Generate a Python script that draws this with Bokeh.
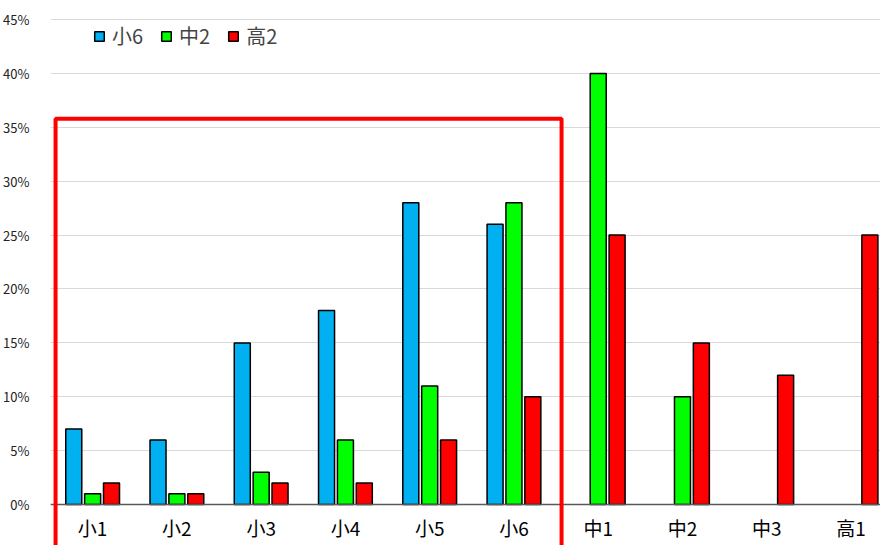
from bokeh.plotting import figure
from bokeh.models import (ColumnDataSource, Range1d, FixedTicker, Legend, LegendItem,
                          PolyAnnotation)
from bokeh.embed import file_html
from bokeh.resources import INLINE

categories = ["小1", "小2", "小3", "小4", "小5", "小6", "中1", "中2", "中3", "高1"]
series_names = ["小6", "中2", "高2"]
s_sho6 = [7, 6, 15, 18, 28, 26, 0, 0, 0, 0]
s_chu2 = [1, 1, 3, 6, 11, 28, 40, 10, 0, 0]
s_kou2 = [2, 1, 2, 2, 6, 10, 25, 15, 12, 25]
y_ticks = [0, 5, 10, 15, 20, 25, 30, 35, 40, 45]

colors = ["#00B0F0", "#00FF00", "#FF0000"]
offsets = [-0.224, 0.0, 0.224]

FONT = "Noto Sans CJK JP"

p = figure(width=880, height=545, output_backend="svg", toolbar_location=None,
           x_range=Range1d(-0.5, 9.35), y_range=Range1d(-3.80, 45.19),
           min_border_left=50, min_border_right=0, min_border_top=17, min_border_bottom=0)
p.outline_line_color = None
p.background_fill_color = "white"
p.border_fill_color = "white"

items = []
for name, vals, col, off in zip(series_names, [s_sho6, s_chu2, s_kou2], colors, offsets):
    xs = [i + off for i, v in enumerate(vals) if v > 0]
    tops = [v for v in vals if v > 0]
    src = ColumnDataSource(dict(x=xs, top=tops))
    r = p.vbar(x="x", top="top", width=0.19, bottom=0, source=src,
               fill_color=col, line_color="black", line_width=1.5)
    items.append(LegendItem(label=name, renderers=[r]))

# x axis drawn at y = 0 inside the frame
p.xaxis.fixed_location = 0
p.xaxis.ticker = FixedTicker(ticks=list(range(len(categories))))
p.xaxis.major_label_overrides = {i: c for i, c in enumerate(categories)}
p.xaxis.major_label_text_font = FONT
p.xaxis.major_label_text_font_size = "19px"
p.xaxis.major_label_text_color = "black"
p.xaxis.major_label_standoff = 3
p.xaxis.major_tick_line_color = None
p.xaxis.minor_tick_line_color = None
p.xaxis.axis_line_color = "#595959"
p.xaxis.axis_line_width = 1.5
p.xgrid.grid_line_color = None

p.yaxis.ticker = FixedTicker(ticks=y_ticks)
p.yaxis.major_label_overrides = {t: f"{t}%" for t in y_ticks}
p.yaxis.major_label_text_font = FONT
p.yaxis.major_label_text_font_size = "13px"
p.yaxis.major_label_text_color = "#222222"
p.yaxis.major_label_standoff = 15
p.yaxis.major_tick_line_color = None
p.yaxis.minor_tick_line_color = None
p.yaxis.axis_line_color = None
p.ygrid.grid_line_color = "#D9D9D9"
p.ygrid.grid_line_width = 1

legend = Legend(items=items, orientation="horizontal", location=(43, 495),
                glyph_width=12, glyph_height=12, label_text_font=FONT,
                label_text_font_size="20px", label_standoff=7, spacing=17,
                padding=0, margin=0, border_line_color=None, background_fill_alpha=0,
                label_height=22)
p.add_layout(legend)

# red highlight frame around 小1..小6
frame = PolyAnnotation(xs=[-0.44, -0.44, 5.565, 5.565], ys=[-10, 35.8, 35.8, -10],
                       fill_alpha=0, line_color="#FF0000", line_alpha=1.0, line_width=4)
p.add_layout(frame)

open("out.html", "w").write(file_html(p, INLINE))
